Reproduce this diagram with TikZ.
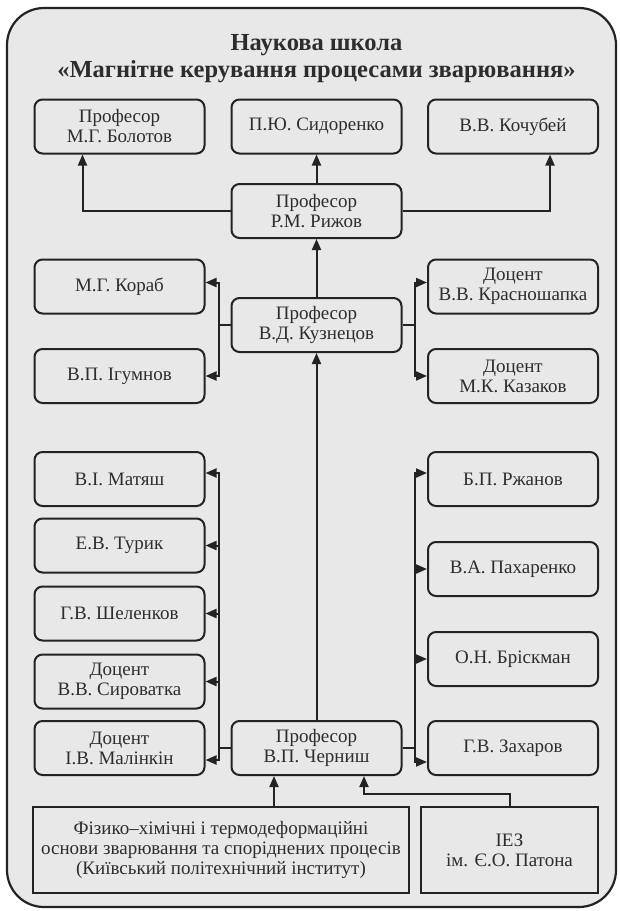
\documentclass[tikz,border=0pt]{standalone}
\usepackage{fontspec}
\setmainfont{Liberation Serif}
\usetikzlibrary{arrows.meta}
\definecolor{fon}{RGB}{232,232,233}
\definecolor{linia}{RGB}{35,35,35}
\definecolor{tekst}{RGB}{45,45,45}
\tikzset{
  osoba/.style={draw=linia, line width=2pt, rounded corners=8pt,
    minimum width=170pt, minimum height=54pt, inner sep=2pt,
    align=center, text=tekst, font=\fontsize{19}{20}\selectfont},
  zaklad/.style={draw=linia, line width=2pt, minimum height=86pt,
    inner sep=2pt, align=center, text=tekst, font=\fontsize{19}{20}\selectfont},
  zv/.style={draw=linia, line width=2pt},
  strilka/.style={zv, -{Triangle[length=11pt,width=9pt]}}
}
\begin{document}
\begin{tikzpicture}[x=1pt,y=-1pt]
  \useasboundingbox (0,0) rectangle (619,911);
  %рамка
  	\draw[linia, line width=2.2pt, fill=fon, rounded corners=37pt] (7,8) rectangle (616,907);
  %заголовок
  	\node[font=\bfseries\fontsize{24.5}{27}\selectfont, align=center, text=tekst] (titul) at (316.5,59)
  	  {Наукова школа\\«Магнітне керування процесами зварювання»};

  %верхній ряд
  	\node[osoba] (bol) at (119.5,126.5) {Професор\\М.Г. Болотов};
  	\node[osoba] (sid) at (316.5,126.5) {П.Ю. Сидоренко};
  	\node[osoba] (koc) at (513,126.5) {В.В. Кочубей};
  	\node[osoba] (riz) at (316.5,211) {Професор\\Р.М. Рижов};

  %Кузнецов
  	\node[osoba] (kor) at (119.5,286.5) {М.Г. Кораб};
  	\node[osoba] (igu) at (119.5,376) {В.П. Ігумнов};
  	\node[osoba] (kuz) at (316.5,325) {Професор\\В.Д. Кузнецов};
  	\node[osoba] (kra) at (513,286.5) {Доцент\\В.В. Красношапка};
  	\node[osoba] (kaz) at (513,376) {Доцент\\М.К. Казаков};

  %Черниш, ліва колонка
  	\node[osoba] (mat) at (119.5,479) {В.І. Матяш};
  	\node[osoba] (tur) at (119.5,545.5) {Е.В. Турик};
  	\node[osoba] (she) at (119.5,613.5) {Г.В. Шеленков};
  	\node[osoba] (sir) at (119.5,681.5) {Доцент\\В.В. Сироватка};
  	\node[osoba] (mal) at (119.5,748) {Доцент\\І.В. Малінкін};
  	\node[osoba] (che) at (316.5,748) {Професор\\В.П. Черниш};
  %права колонка
  	\node[osoba] (rzh) at (513,479) {Б.П. Ржанов};
  	\node[osoba] (pak) at (513,569) {В.А. Пахаренко};
  	\node[osoba] (bri) at (513,659) {О.Н. Бріскман};
  	\node[osoba] (zak) at (513,748) {Г.В. Захаров};

  %заклади
  	\node[zaklad, minimum width=376pt] (fiz) at (221,850)
  	  {Фізико--хімічні і термодеформаційні\\основи зварювання та споріднених процесів\\(Київський політехнічний інститут)};
  	\node[zaklad, minimum width=177pt] (iez) at (509.5,850) {ІЕЗ\\ім. Є.О. Патона};

  %зв'язки Рижова
  	\draw[strilka] (riz.north) -- (sid.south);
  	\draw[strilka] (riz.west) -| ([xshift=-37pt]bol.south);
  	\draw[strilka] (riz.east) -| ([xshift=37pt]koc.south);
  	\draw[strilka] (kuz.north) -- (riz.south);

  %зв'язки Кузнецова
  	\draw[zv] (kuz.west) -- ++(-12,0) coordinate (kl);
  	\draw[strilka] (kl) |- ([yshift=4pt]kor.east);
  	\draw[strilka] (kl) |- (igu.east);
  	\draw[zv] (kuz.east) -- ++(12,0) coordinate (kr);
  	\draw[strilka] (kr) |- ([yshift=4pt]kra.west);
  	\draw[strilka] (kr) |- (kaz.west);
  	\draw[strilka] (che.north) -- (kuz.south);

  %зв'язки Черниша
  	\draw[zv] (che.west) -- ++(-12,0) coordinate (cl);
  	\draw[strilka] (cl) |- ([yshift=6pt]mat.east);
  	\draw[strilka] (cl) |- (tur.east);
  	\draw[strilka] (cl) |- (she.east);
  	\draw[strilka] (cl) |- (sir.east);
  	\draw[strilka] (cl) |- ([yshift=-12pt]mal.east);
  	\draw[zv] (che.east) -- ++(12,0) coordinate (cr);
  	\draw[strilka] (cr) |- ([yshift=6pt]rzh.west);
  	\draw[strilka] (cr) |- (pak.west);
  	\draw[strilka] (cr) |- (bri.west);
  	\draw[strilka] (cr) |- ([yshift=-14pt]zak.west);

  %від закладів
  	\draw[strilka] ([xshift=53pt]fiz.north) -- ([xshift=53pt]fiz.north |- che.south);
  	\draw[strilka] (iez.north) -- ++(0,-12) -| ([xshift=47.5pt]che.south);
\end{tikzpicture}
\end{document}
